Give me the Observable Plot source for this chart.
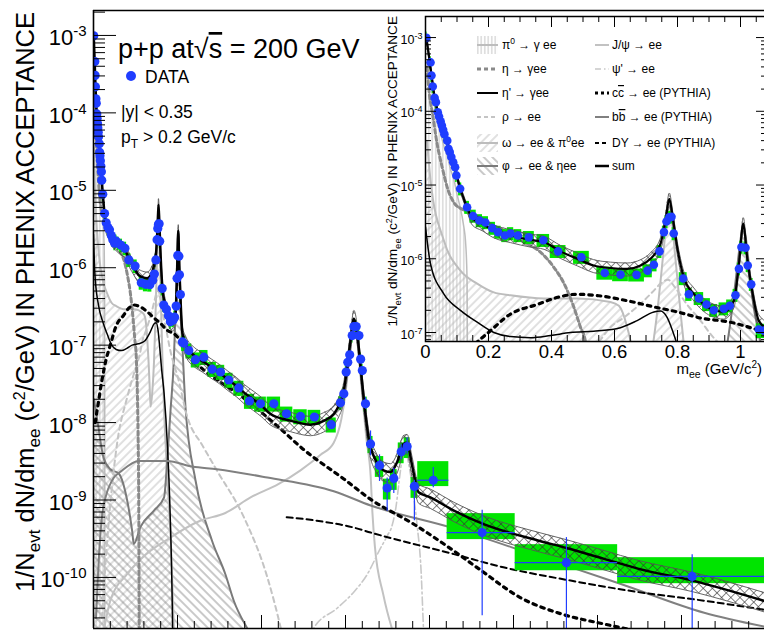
<!DOCTYPE html>
<html><head><meta charset="utf-8">
<script src="https://cdn.jsdelivr.net/npm/d3@7"></script>
<script src="https://cdn.jsdelivr.net/npm/@observablehq/plot@0.6"></script>
<style>
html,body{margin:0;padding:0;overflow:hidden;background:#fff;width:764px;height:631px}
#wrap{position:relative;width:764px;height:631px;overflow:hidden;font-family:"Liberation Sans",Arial,Helvetica,sans-serif}
#wrap svg{position:absolute;left:0;top:0}
</style>
</head><body>
<svg width="0" height="0" style="position:absolute;left:0;top:0">
<defs>
<pattern id="hPi0" patternUnits="userSpaceOnUse" width="3.5" height="8"><line x1="1.75" y1="0" x2="1.75" y2="8" stroke="#b3b3b3" stroke-width="0.8"/></pattern>
<pattern id="hOmega" patternUnits="userSpaceOnUse" width="6" height="6" patternTransform="rotate(45)"><line x1="3" y1="0" x2="3" y2="6" stroke="#b3b3b3" stroke-width="0.8"/></pattern>
<pattern id="hPhi" patternUnits="userSpaceOnUse" width="6" height="6" patternTransform="rotate(-45)"><line x1="3" y1="0" x2="3" y2="6" stroke="#777" stroke-width="0.8"/></pattern>
<pattern id="hCross" patternUnits="userSpaceOnUse" width="6.5" height="6.5" patternTransform="rotate(45)"><line x1="3.25" y1="0" x2="3.25" y2="6.5" stroke="#333" stroke-width="0.6"/><line x1="0" y1="3.25" x2="6.5" y2="3.25" stroke="#333" stroke-width="0.6"/></pattern>
</defs></svg>
<div id="wrap"></div>
<script>
const FONT = "'Liberation Sans', Arial, Helvetica, sans-serif";
const BLUE = "#1f3dff", GREEN = "#00e400";

// ---------- data points (mass in GeV/c^2, yield) ----------
const lowM = [0.003,0.016,0.019,0.023,0.029,0.033,0.039,0.043,0.048,0.052,0.056,0.060,0.069,0.073,0.077,0.082,0.088,0.094,0.098,0.110,0.132,0.151,0.171,0.190,0.212,0.230,0.252,0.270,0.293,0.328,0.374,0.421,0.495,0.569,0.619,0.670,0.705,0.725,0.743,0.757,0.765,0.774,0.781,0.788,0.818,0.836,0.868,0.892,0.915,0.947,0.966,0.984,0.995,1.003,1.016,1.023,1.034,1.058];
const lowY = [9.9e-4,4.6e-4,3.05e-4,2.17e-4,1.52e-4,1.33e-4,9.7e-5,8.5e-5,7.3e-5,6.4e-5,5.6e-5,4.9e-5,4.0e-5,3.1e-5,2.8e-5,2.4e-5,2.04e-5,1.74e-5,1.35e-5,8.9e-6,5.0e-6,3.8e-6,3.3e-6,3.1e-6,2.6e-6,2.3e-6,2.07e-6,2.2e-6,2.07e-6,1.95e-6,1.78e-6,1.26e-6,1.05e-6,6.4e-7,6.1e-7,6.05e-7,6.9e-7,8.3e-7,1.26e-6,2.3e-6,3.2e-6,3.65e-6,3.7e-6,2.2e-6,5.4e-7,3.3e-7,2.9e-7,2.4e-7,2.0e-7,2.1e-7,2.3e-7,3.2e-7,7.3e-7,1.44e-6,1.41e-6,8.1e-7,4.5e-7,1.1e-7];
const lowW = [0.004,0.004,0.004,0.004,0.004,0.004,0.004,0.004,0.004,0.004,0.004,0.004,0.004,0.004,0.004,0.004,0.005,0.005,0.005,0.01,0.015,0.02,0.02,0.02,0.02,0.02,0.02,0.02,0.025,0.035,0.04,0.05,0.05,0.05,0.05,0.05,0.03,0.02,0.015,0.01,0.01,0.01,0.01,0.01,0.025,0.02,0.03,0.025,0.025,0.03,0.02,0.015,0.01,0.01,0.01,0.01,0.012,0.015];
const lowSys = 0.2;

const midM = [1.075,1.135,1.214,1.313,1.413,1.512,1.611,1.73,1.857,1.988,2.147,2.298,2.464,2.63,2.83,2.94,2.98,3.008,3.027,3.05,3.08,3.10,3.127,3.16,3.18,3.20,3.238,3.298,3.405,3.496,3.575,3.663,3.734,3.82];
const midY = [1.06e-7,8.5e-8,6.5e-8,7.0e-8,4.9e-8,4.5e-8,3.55e-8,2.8e-8,1.9e-8,1.75e-8,1.75e-8,1.3e-8,1.2e-8,1.18e-8,9.4e-9,1.8e-8,2.35e-8,4.5e-8,6.0e-8,7.5e-8,1.33e-7,1.74e-7,1.74e-7,1.33e-7,6.6e-8,4.7e-8,1.75e-8,5.3e-9,2.8e-9,1.43e-9,1.9e-9,4.2e-9,4.9e-9,1.5e-9];
const midW = [0.05,0.07,0.1,0.1,0.1,0.1,0.1,0.12,0.12,0.14,0.16,0.15,0.16,0.15,0.12,0.04,0.03,0.02,0.02,0.02,0.02,0.02,0.02,0.02,0.02,0.02,0.04,0.06,0.1,0.09,0.08,0.07,0.07,0.08];
const midSys = [0.22,0.22,0.22,0.22,0.22,0.22,0.22,0.22,0.22,0.22,0.22,0.22,0.22,0.22,0.22,0.2,0.2,0.2,0.2,0.2,0.2,0.2,0.2,0.2,0.2,0.2,0.22,0.25,0.3,0.3,0.3,0.3,0.3,0.3];
const midStatLo = [0.95,0.95,0.95,0.95,0.95,0.95,0.95,0.95,0.95,0.95,0.95,0.95,0.95,0.95,0.95,0.9,0.9,0.9,0.9,0.9,0.9,0.9,0.9,0.9,0.9,0.9,0.85,0.7,0.62,0.5,0.64,0.79,0.8,0.36];
const midStatHi = [1.05,1.05,1.05,1.05,1.05,1.05,1.05,1.05,1.05,1.05,1.05,1.05,1.05,1.05,1.05,1.1,1.1,1.1,1.1,1.1,1.1,1.1,1.1,1.1,1.1,1.1,1.2,1.47,1.37,1.35,1.35,1.23,1.3,1.2];

const hiM = [4.045,4.627,5.63,7.127];
const hiY = [1.8e-9,3.8e-10,1.55e-10,1.03e-10];
const hiBinLo = [3.86,4.21,5.02,6.24];
const hiBinHi = [4.23,5.02,6.24,8.0];
const hiSysLo = [1.49e-9,3.08e-10,1.22e-10,8.3e-11];
const hiSysHi = [3.13e-9,6.67e-10,2.65e-10,1.8e-10];
const hiStatLo = [1.44e-9,3.2e-11,1e-12,1e-12];
const hiStatHi = [2.63e-9,7.4e-10,3.27e-10,1.97e-10];

// ---------- cocktail ----------
const sumM = [0.003,0.01,0.02,0.03,0.04,0.05,0.06,0.07,0.08,0.09,0.1,0.11,0.12,0.13,0.148,0.18,0.217,0.27,0.333,0.376,0.429,0.482,0.534,0.587,0.64,0.683,0.714,0.746,0.762,0.774,0.785,0.799,0.82,0.852,0.905,0.947,0.979,0.995,1.009,1.021,1.037,1.058,1.1,1.2,1.3,1.4,1.5,1.6,1.7,1.8,1.9,2.0,2.107,2.345,2.583,2.74,2.86,2.92,2.98,3.02,3.06,3.1,3.14,3.18,3.22,3.28,3.36,3.46,3.536,3.615,3.69,3.734,3.79,3.87,4.01,4.29,4.63,5.29,5.63,6.07,6.48,7.13,7.98];
const sumY = [9.8e-4,6.0e-4,2.9e-4,1.45e-4,9.5e-5,7.0e-5,4.9e-5,3.7e-5,2.6e-5,1.95e-5,1.3e-5,9.0e-6,6.8e-6,5.2e-6,3.6e-6,3.0e-6,2.4e-6,2.07e-6,1.8e-6,1.68e-6,1.26e-6,1.0e-6,8.1e-7,7.5e-7,7.3e-7,8.1e-7,1.0e-6,1.6e-6,3.3e-6,6.5e-6,3.6e-6,1.44e-6,5.6e-7,3.35e-7,2.1e-7,1.9e-7,2.7e-7,8.5e-7,3.0e-6,1.05e-6,3.7e-7,1.45e-7,1.0e-7,7.3e-8,6.2e-8,5.2e-8,4.4e-8,3.6e-8,3.0e-8,2.4e-8,2.0e-8,1.65e-8,1.29e-8,1.06e-8,9.4e-9,1.05e-8,1.29e-8,1.65e-8,2.6e-8,5.2e-8,1.15e-7,2.2e-7,1.4e-7,5.2e-8,1.9e-8,5.9e-9,3.25e-9,2.4e-9,2.3e-9,3.1e-9,5.3e-9,5.5e-9,2.9e-9,1.26e-9,1.08e-9,7.3e-10,4.95e-10,3.0e-10,2.4e-10,1.75e-10,1.3e-10,9.1e-11,5.0e-11];
const sumBand = [0.1,0.1,0.1,0.1,0.1,0.1,0.1,0.1,0.1,0.1,0.1,0.1,0.1,0.1,0.2,0.2,0.2,0.2,0.2,0.2,0.2,0.2,0.2,0.2,0.2,0.2,0.2,0.2,0.2,0.2,0.2,0.2,0.2,0.2,0.2,0.2,0.2,0.2,0.2,0.2,0.2,0.2,0.28,0.28,0.28,0.28,0.28,0.28,0.28,0.28,0.28,0.28,0.28,0.28,0.28,0.28,0.28,0.28,0.28,0.28,0.28,0.28,0.28,0.28,0.28,0.28,0.28,0.28,0.28,0.28,0.28,0.28,0.28,0.28,0.28,0.28,0.28,0.28,0.28,0.28,0.28,0.28,0.28];

const pi0M = [0.003,0.01,0.02,0.03,0.04,0.05,0.06,0.07,0.08,0.09,0.1,0.11,0.12,0.128,0.132,0.134,0.135];
const pi0Y = [9.3e-4,5.5e-4,2.2e-4,1.1e-4,6.5e-5,4.6e-5,3.2e-5,2.4e-5,1.6e-5,1.2e-5,7.5e-6,5e-6,3e-6,1.5e-6,5e-7,1e-8,1e-12];
const etaM = [0.005,0.013,0.021,0.037,0.053,0.069,0.09,0.12,0.164,0.2,0.249,0.312,0.365,0.407,0.44,0.471,0.492,0.508,0.52,0.53,0.54,0.547];
const etaY = [4e-4,1.6e-4,1.0e-4,3.6e-5,1.74e-5,9.3e-6,5.8e-6,4.6e-6,3.6e-6,3.0e-6,2.4e-6,1.68e-6,1.23e-6,7.7e-7,4.6e-7,2.2e-7,1.18e-7,7.5e-8,3e-8,8e-9,5e-10,1e-12];
const etapM = [0.0,0.016,0.058,0.111,0.164,0.217,0.27,0.333,0.397,0.46,0.534,0.609,0.672,0.725,0.746,0.767,0.788,0.81,0.84,0.88,0.91,0.94,0.955];
const etapY = [2.7e-6,8.5e-7,3.35e-7,2.0e-7,1.38e-7,1.0e-7,8.8e-8,8.5e-8,9.1e-8,1.0e-7,1.04e-7,1.13e-7,1.45e-7,1.9e-7,1.95e-7,1.6e-7,9.5e-8,5e-8,2.4e-8,5e-9,8e-10,3e-11,1e-12];
const rhoM = [0.1,0.16,0.28,0.4,0.5,0.55,0.587,0.63,0.693,0.725,0.746,0.77,0.79,0.83,0.873,0.905,0.95,1.0,1.115,1.3,1.47,1.79,2.07,2.23,2.3];
const rhoY = [3e-11,2.7e-10,5.3e-9,2.1e-8,5e-8,7.5e-8,1.18e-7,1.6e-7,2.7e-7,3.7e-7,4.6e-7,5.2e-7,4.2e-7,2.4e-7,1.45e-7,9.5e-8,6e-8,4e-8,1.2e-8,5e-9,2.4e-9,6e-10,1e-10,2.2e-11,1e-11];
const omegaM = [0.005,0.016,0.058,0.111,0.164,0.217,0.27,0.376,0.482,0.587,0.614,0.64,0.656,0.668,0.68,0.70,0.72,0.735,0.757,0.772,0.794,0.81,0.82,0.84,0.87,0.92,1.0];
const omegaY = [4e-5,1.15e-5,1.78e-6,6.9e-7,4.6e-7,3.5e-7,3.2e-7,2.9e-7,2.9e-7,2.6e-7,2.3e-7,1.2e-7,6e-8,3e-8,1.6e-8,2.5e-8,6e-8,1.8e-7,1.44e-6,6.1e-6,9.5e-7,1.8e-7,7e-8,1.5e-8,3e-9,3e-10,1e-12];
const phiM = [0.005,0.05,0.12,0.2,0.3,0.4,0.46,0.48,0.56,0.72,0.84,0.877,0.917,0.956,0.976,0.99,1.0,1.009,1.02,1.03,1.04,1.06,1.095,1.214,1.41,1.57,1.67,1.85,2.0];
const phiY = [2e-8,1e-8,3.5e-9,2.5e-9,2.2e-9,1.0e-9,4e-10,2.7e-10,4.5e-10,7.3e-10,1.08e-9,3.2e-9,1.43e-8,6.3e-8,2.5e-7,8e-7,1.8e-6,2.9e-6,1.5e-6,6e-7,2.5e-7,9e-8,1.6e-8,1.8e-9,3e-10,1.1e-10,5e-11,2e-11,1e-11];
const jpsiM = [0.12,0.2,0.4,0.58,0.9,1.27,1.57,1.87,2.2,2.46,2.7,2.86,2.95,3.0,3.05,3.1,3.13,3.16,3.2,3.25,3.3,3.32,3.35,3.45,3.6];
const jpsiY = [2e-11,5e-11,1.1e-10,1.8e-10,3.2e-10,5.4e-10,6.8e-10,1.08e-9,1.6e-9,2.4e-9,3.8e-9,5.5e-9,1.1e-8,2.4e-8,7.5e-8,2.1e-7,1.6e-7,7e-8,2.2e-8,6e-9,2e-9,7e-10,2.5e-10,6e-11,1.5e-11];
const psipM = [2.5,2.62,2.9,3.1,3.26,3.4,3.5,3.55,3.6,3.65,3.69,3.72,3.75,3.8,3.85,3.9,3.93,3.96];
const psipY = [1e-11,2.2e-11,4e-11,6.5e-11,1.1e-10,2.2e-10,3.5e-10,4.5e-10,8e-10,2.2e-9,4.2e-9,4.2e-9,3e-9,1.4e-9,5e-10,1.2e-10,2e-11,5e-12];
const ccM = [0.02,0.05,0.1,0.15,0.2,0.27,0.355,0.42,0.48,0.55,0.64,0.73,0.8,0.88,0.96,1.05,1.2,1.31,1.5,1.71,2.0,2.19,2.5,2.98,3.3,3.81,4.29,4.61,5.08,5.56,6.08,6.5,7.0,7.5,8.0];
const ccY = [1.0e-8,1.6e-8,3.5e-8,6.5e-8,1.0e-7,1.78e-7,2.4e-7,3.0e-7,3.3e-7,3.15e-7,2.7e-7,2.2e-7,1.9e-7,1.55e-7,1.4e-7,1.1e-7,6.3e-8,4.8e-8,3.4e-8,2.4e-8,1.35e-8,9.0e-9,4.5e-9,1.87e-9,1.02e-9,4.9e-10,2.2e-10,1.24e-10,5.5e-11,3.4e-11,2.5e-11,2.0e-11,1.5e-11,1.1e-11,8e-12];
const bbM = [0.03,0.06,0.1,0.143,0.22,0.34,0.54,0.877,1.175,1.47,2.07,2.86,3.3,4.29,5.28,6.27,7.27,8.0];
const bbY = [3e-11,1.5e-10,6e-10,1.08e-9,1.78e-9,2.4e-9,3.2e-9,3.2e-9,2.7e-9,2.5e-9,1.95e-9,1.3e-9,8.5e-10,4.3e-10,1.9e-10,8.3e-11,3.5e-11,2.3e-11];
const dyM = [2.3,2.66,3.1,3.3,4.29,4.88,5.68,6.47,7.27,8.0];
const dyY = [6.0e-10,5.4e-10,4.4e-10,3.8e-10,2.0e-10,1.35e-10,9.1e-11,6.5e-11,5.0e-11,3.8e-11];

// tick labels
const mainDecades = [1e-3,1e-4,1e-5,1e-6,1e-7,1e-8,1e-9,1e-10];
const insetDecades = [1e-3,1e-4,1e-5,1e-6,1e-7];
const insetXTicks = [0,0.2,0.4,0.6,0.8,1];
const insetXLabels = ["0","0.2","0.4","0.6","0.8","1"];

// ---------- tables ----------
const tab = (xs, ys) => xs.map((m, i) => ({m, v: ys[i]}));
const lowPts = lowM.map((m, i) => ({m, v: lowY[i], x1: m - lowW[i]/2, x2: m + lowW[i]/2, y1: lowY[i]*(1-lowSys), y2: lowY[i]*(1+lowSys)}));
const midPts = midM.map((m, i) => ({m, v: midY[i], x1: m - midW[i]/2, x2: m + midW[i]/2, y1: midY[i]*(1-midSys[i]), y2: midY[i]*(1+midSys[i]), s1: midY[i]*midStatLo[i], s2: midY[i]*midStatHi[i]}));
const hiPts = hiM.map((m, i) => ({m, v: hiY[i], x1: hiBinLo[i], x2: hiBinHi[i], y1: hiSysLo[i], y2: hiSysHi[i], s1: hiStatLo[i], s2: hiStatHi[i]}));
const allPts = [...lowPts, ...midPts, ...hiPts];
const sumT = sumM.map((m, i) => ({m, v: sumY[i], lo: sumY[i]*(1-sumBand[i]), hi: sumY[i]*(1+sumBand[i])}));

const C = "monotone-x";
function layers(floor, r, sumW) {
  const L = (t, o) => Plot.line(t, {x: "m", y: "v", curve: C, clip: true, ...o});
  return [
    Plot.areaY(tab(omegaM, omegaY), {x: "m", y1: () => floor, y2: "v", curve: C, fill: "url(#hOmega)", clip: true}),
    Plot.areaY(tab(phiM, phiY), {x: "m", y1: () => floor, y2: "v", curve: C, fill: "url(#hPhi)", clip: true}),
    Plot.areaY(tab(pi0M, pi0Y), {x: "m", y1: () => floor, y2: "v", curve: C, fill: "url(#hPi0)", clip: true}),
    L(tab(pi0M, pi0Y), {stroke: "#bdbdbd", strokeWidth: 1.5}),
    L(tab(omegaM, omegaY), {stroke: "#bdbdbd", strokeWidth: 2}),
    L(tab(phiM, phiY), {stroke: "#7a7a7a", strokeWidth: 2}),
    L(tab(jpsiM, jpsiY), {stroke: "#c2c2c2", strokeWidth: 2}),
    L(tab(psipM, psipY), {stroke: "#c8c8c8", strokeWidth: 1.6, strokeDasharray: "8,3,2,3"}),
    L(tab(rhoM, rhoY), {stroke: "#c4c4c4", strokeWidth: 2, strokeDasharray: "5,4"}),
    L(tab(etaM, etaY), {stroke: "#8a8a8a", strokeWidth: 3, strokeDasharray: "4,3"}),
    L(tab(etapM, etapY), {stroke: "black", strokeWidth: 1.5}),
    L(tab(bbM, bbY), {stroke: "#808080", strokeWidth: 2}),
    L(tab(dyM, dyY), {stroke: "black", strokeWidth: 2, strokeDasharray: "6,4"}),
    L(tab(ccM, ccY), {stroke: "black", strokeWidth: 3.2, strokeDasharray: "3.5,5"}),
    Plot.rect(allPts, {x1: "x1", x2: "x2", y1: "y1", y2: "y2", fill: GREEN, clip: true}),
    Plot.areaY(sumT, {x: "m", y1: "lo", y2: "hi", curve: C, fill: "url(#hCross)", clip: true}),
    Plot.line(sumT, {x: "m", y: "lo", curve: C, stroke: "#555", strokeWidth: 0.9, clip: true}),
    Plot.line(sumT, {x: "m", y: "hi", curve: C, stroke: "#555", strokeWidth: 0.9, clip: true}),
    Plot.line(sumT, {x: "m", y: "v", curve: C, stroke: "black", strokeWidth: sumW, clip: true}),
    Plot.ruleX([...midPts, ...hiPts], {x: "m", y1: "s1", y2: "s2", stroke: BLUE, strokeWidth: 1.2, clip: true}),
    Plot.ruleY(hiPts, {y: "v", x1: "x1", x2: "x2", stroke: BLUE, strokeWidth: 1.2, clip: true}),
    Plot.dot(allPts, {x: "m", y: "v", r, fill: BLUE, stroke: null, clip: true})
  ];
}

function minorLog(lo, hi) {
  const out = [];
  for (let k = -12; k <= -2; k++) for (let j = 2; j <= 9; j++) { const v = j * Math.pow(10, k); if (v > lo && v < hi) out.push(v); }
  return out;
}

const svgStyle = {background: "transparent", maxWidth: "none", overflow: "visible", fontFamily: FONT, color: "black"};

// ---------- main plot ----------
const mainDom = [2.19e-11, 2.1e-3];
const mW = 672, mH = 618;
const main = Plot.plot({
  width: 765, height: 631, marginLeft: 93, marginRight: 0, marginTop: 10, marginBottom: 3,
  x: {domain: [0, 8], axis: null},
  y: {type: "log", domain: mainDom, axis: null},
  style: svgStyle,
  marks: [
    ...layers(mainDom[0], 4.6, 2.5),
    Plot.tickY(mainDecades, {y: d => d, insetRight: mW - 23, stroke: "black", strokeWidth: 1}),
    Plot.tickY(minorLog(mainDom[0], mainDom[1]), {y: d => d, insetRight: mW - 12, stroke: "black", strokeWidth: 1}),
    Plot.tickX(d3.range(0, 9, 1), {x: d => d, insetTop: mH - 13, stroke: "black", strokeWidth: 1}),
    Plot.tickX(d3.range(0.2, 8, 0.2).filter(d => Math.abs(d - Math.round(d)) > 0.01), {x: d => d, insetTop: mH - 7, stroke: "black", strokeWidth: 1}),
    Plot.ruleX([0], {stroke: "black", strokeWidth: 1.6}),
    Plot.ruleY([mainDom[0], mainDom[1]], {stroke: "black", strokeWidth: 1.6}),
    Plot.text(mainDecades, {x: () => 0, y: d => d, text: d => "§" + Math.round(Math.log10(d)), textAnchor: "end", dx: -7, dy: 3, fontSize: 22})
  ]
});

// ---------- inset ----------
const insDom = [7.55e-8, 1.93e-3];
const iW = 342, iH = 325;
const inset = Plot.plot({
  width: 800, height: 400, marginLeft: 425, marginRight: 33, marginTop: 16, marginBottom: 59,
  x: {domain: [0, 1.0857], axis: null},
  y: {type: "log", domain: insDom, axis: null},
  style: svgStyle,
  marks: [
    Plot.frame({fill: "white", stroke: "none"}),
    ...layers(insDom[0], 4.3, 2.2),
    Plot.tickY(insetDecades, {y: d => d, insetRight: iW - 11, stroke: "black"}),
    Plot.tickY(minorLog(insDom[0], insDom[1]), {y: d => d, insetRight: iW - 6, stroke: "black"}),
    Plot.tickY(insetDecades, {y: d => d, insetLeft: iW - 11, stroke: "black"}),
    Plot.tickY(minorLog(insDom[0], insDom[1]), {y: d => d, insetLeft: iW - 6, stroke: "black"}),
    Plot.tickX(insetXTicks, {x: d => d, insetTop: iH - 11, stroke: "black"}),
    Plot.tickX(d3.range(0.05, 1.09, 0.05).filter(d => Math.abs(d*5 - Math.round(d*5)) > 0.01), {x: d => d, insetTop: iH - 6, stroke: "black"}),
    Plot.tickX(insetXTicks, {x: d => d, insetBottom: iH - 11, stroke: "black"}),
    Plot.tickX(d3.range(0.05, 1.09, 0.05).filter(d => Math.abs(d*5 - Math.round(d*5)) > 0.01), {x: d => d, insetBottom: iH - 6, stroke: "black"}),
    Plot.frame({stroke: "black", strokeWidth: 1.5}),
    Plot.text(insetDecades, {x: () => 0, y: d => d, text: d => "§" + Math.round(Math.log10(d)), textAnchor: "end", dx: -3, dy: 2, fontSize: 12.5}),
    Plot.text(insetXTicks, {x: d => d, y: () => insDom[0], text: (d, i) => insetXLabels[i], lineAnchor: "top", dy: 3, fontSize: 18.5})
  ]
});

function sup(svg, big, small, raise) {
  d3.select(svg).selectAll("text").each(function() {
    const el = d3.select(this); const s = el.text();
    if (!s.startsWith("§")) return;
    el.text("");
    el.append("tspan").attr("font-size", big).text("10");
    el.append("tspan").attr("font-size", small).attr("dy", -raise).text(s.slice(1));
  });
}
sup(main, 22, 15, 9);
sup(inset, 12.5, 9, 5);

const wrap = document.getElementById("wrap");
wrap.appendChild(main);
wrap.appendChild(inset);

// ---------- annotations / legend ----------
const ov = d3.create("svg").attr("width", 764).attr("height", 631).style("font-family", FONT);
function txt(x, y, size, parts, attrs = {}) {
  const t = ov.append("text").attr("x", x).attr("y", y).attr("font-size", size);
  for (const [k, v] of Object.entries(attrs)) t.attr(k, v);
  for (const p of parts) {
    const s = t.append("tspan").text(p.t);
    if (p.size) s.attr("font-size", p.size);
    if (p.dy) s.attr("dy", p.dy);
    if (p.over) s.style("text-decoration", "overline");
  }
  return t;
}
// main y title
txt(0, 0, 25.5, [
  {t: "1/N"}, {t: "evt", size: 17, dy: 6}, {t: " dN/dm", dy: -6}, {t: "ee", size: 17, dy: 6},
  {t: " (c", dy: -6}, {t: "2", size: 16, dy: -9}, {t: "/GeV) IN PHENIX ACCEPTANCE", dy: 9}
], {transform: "translate(34,12) rotate(-90)", "text-anchor": "end"});
// inset y title
txt(0, 0, 13.6, [
  {t: "1/N"}, {t: "evt", size: 9.5, dy: 3.5}, {t: " dN/dm", dy: -3.5}, {t: "ee", size: 9.5, dy: 3.5},
  {t: " (c", dy: -3.5}, {t: "2", size: 9, dy: -5}, {t: "/GeV) IN PHENIX ACCEPTANCE", dy: 5}
], {transform: "translate(397,16) rotate(-90)", "text-anchor": "end"});
// inset x title
txt(762, 374, 15, [{t: "m"}, {t: "ee", size: 10.5, dy: 3.5}, {t: " (GeV/c", dy: -3.5}, {t: "2", size: 10, dy: -6}, {t: ")", dy: 6}], {"text-anchor": "end"});
// header
txt(118, 58, 27, [{t: "p+p at\u221A"}, {t: "s", over: true}, {t: " = 200 GeV"}]);
ov.append("circle").attr("cx", 131).attr("cy", 76).attr("r", 5).attr("fill", BLUE);
txt(145, 83, 17.5, [{t: "DATA"}]);
txt(121, 118, 17.5, [{t: "|y| < 0.35"}]);
txt(121, 143, 17.5, [{t: "p"}, {t: "T", size: 12, dy: 5}, {t: " > 0.2 GeV/c", dy: -5}]);

// inset legend
const rowsY = [45, 69, 93, 117, 143, 166];
const col1 = [
  {kind: "box", fill: "url(#hPi0)", stroke: "#bdbdbd", parts: [{t: "\u03C0"}, {t: "0", size: 8.5, dy: -5}, {t: " \u2192 \u03B3 ee", dy: 5}]},
  {kind: "line", stroke: "#8a8a8a", w: 3, dash: "4,3", parts: [{t: "\u03B7 \u2192 \u03B3ee"}]},
  {kind: "line", stroke: "black", w: 2, parts: [{t: "\u03B7' \u2192 \u03B3ee"}]},
  {kind: "line", stroke: "#c4c4c4", w: 2, dash: "4,3", parts: [{t: "\u03C1 \u2192 ee"}]},
  {kind: "box", fill: "url(#hOmega)", stroke: "#bdbdbd", parts: [{t: "\u03C9 \u2192 ee & \u03C0"}, {t: "0", size: 8.5, dy: -5}, {t: "ee", dy: 5}]},
  {kind: "box", fill: "url(#hPhi)", stroke: "#7a7a7a", parts: [{t: "\u03C6 \u2192 ee & \u03B7ee"}]}
];
const col2 = [
  {stroke: "#c2c2c2", w: 2, parts: [{t: "J/\u03C8 \u2192 ee"}]},
  {stroke: "#c8c8c8", w: 1.6, dash: "6,3,1.5,3", parts: [{t: "\u03C8' \u2192 ee"}]},
  {stroke: "black", w: 3, dash: "3,3", parts: [{t: "c"}, {t: "c", over: true}, {t: " \u2192 ee (PYTHIA)"}]},
  {stroke: "#808080", w: 2, parts: [{t: "b"}, {t: "b", over: true}, {t: " \u2192 ee (PYTHIA)"}]},
  {stroke: "black", w: 2, dash: "4,3", parts: [{t: "DY \u2192 ee (PYTHIA)"}]},
  {stroke: "black", w: 2.5, parts: [{t: "sum"}]}
];
col1.forEach((e, i) => {
  const y = rowsY[i];
  if (e.kind === "box") {
    ov.append("rect").attr("x", 477).attr("y", y - 9).attr("width", 21).attr("height", 18).attr("fill", e.fill);
    ov.append("line").attr("x1", 477).attr("x2", 498).attr("y1", y).attr("y2", y).attr("stroke", e.stroke).attr("stroke-width", 2);
  } else {
    ov.append("line").attr("x1", 477).attr("x2", 498).attr("y1", y).attr("y2", y).attr("stroke", e.stroke).attr("stroke-width", e.w).attr("stroke-dasharray", e.dash || null);
  }
  txt(502, y + 4, 12, e.parts);
});
col2.forEach((e, i) => {
  const y = rowsY[i];
  ov.append("line").attr("x1", 595).attr("x2", 609).attr("y1", y).attr("y2", y).attr("stroke", e.stroke).attr("stroke-width", e.w).attr("stroke-dasharray", e.dash || null);
  txt(612, y + 4, 12, e.parts);
});
wrap.appendChild(ov.node());
</script></body></html>
